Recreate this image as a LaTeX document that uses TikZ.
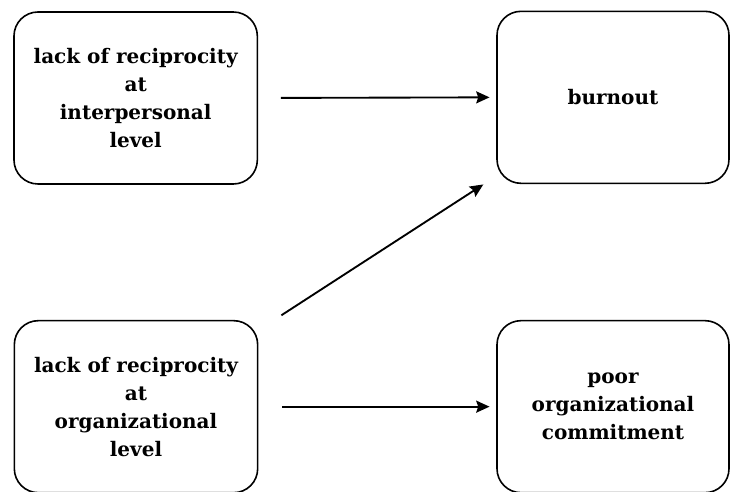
\documentclass[tikz,border=0pt]{standalone}
\usepackage{fontspec}
\setmainfont{DejaVu Serif}
\usetikzlibrary{arrows.meta,calc}
\tikzstyle{factor}=[draw, line width=1.2pt, rounded corners=18pt, align=center,
  font=\fontsize{15}{21}\selectfont\bfseries, inner sep=0pt]
\tikzstyle{cause}=[factor, minimum width=182.5pt, minimum height=129pt]
\tikzstyle{effect}=[factor, minimum width=174pt, minimum height=129pt]
\tikzstyle{link}=[-{Stealth[length=10pt,width=9pt,inset=1.5pt]}, line width=1.4pt]
\newcommand{\factor}[3]{node (f#1) [#2]
  {#3}}
\begin{document}
\begin{tikzpicture}
  \useasboundingbox (0,0) rectangle (548.25pt,369pt);
  \path (101.75pt,295.5pt) \factor{1}{cause}{lack of reciprocity\\at\\interpersonal\\level};
  \path (459.75pt,296pt) \factor{2}{effect}{burnout};
  \path (102pt,64pt) \factor{3}{cause}{lack of reciprocity\\at\\organizational\\level};
  \path (459.75pt,64pt) \factor{4}{effect}{poor\\organizational\\commitment};

  \draw [link, shorten <=17pt, shorten >=5pt] (f1.east) -- (f2.west);
  \draw [link, shorten <=18pt, shorten >=5pt] (f3.east) -- (f4.west);
  \draw [link, shorten <=20.5pt, shorten >=11.5pt] (f3.32) -- (f2.214);
\end{tikzpicture}
\end{document}
